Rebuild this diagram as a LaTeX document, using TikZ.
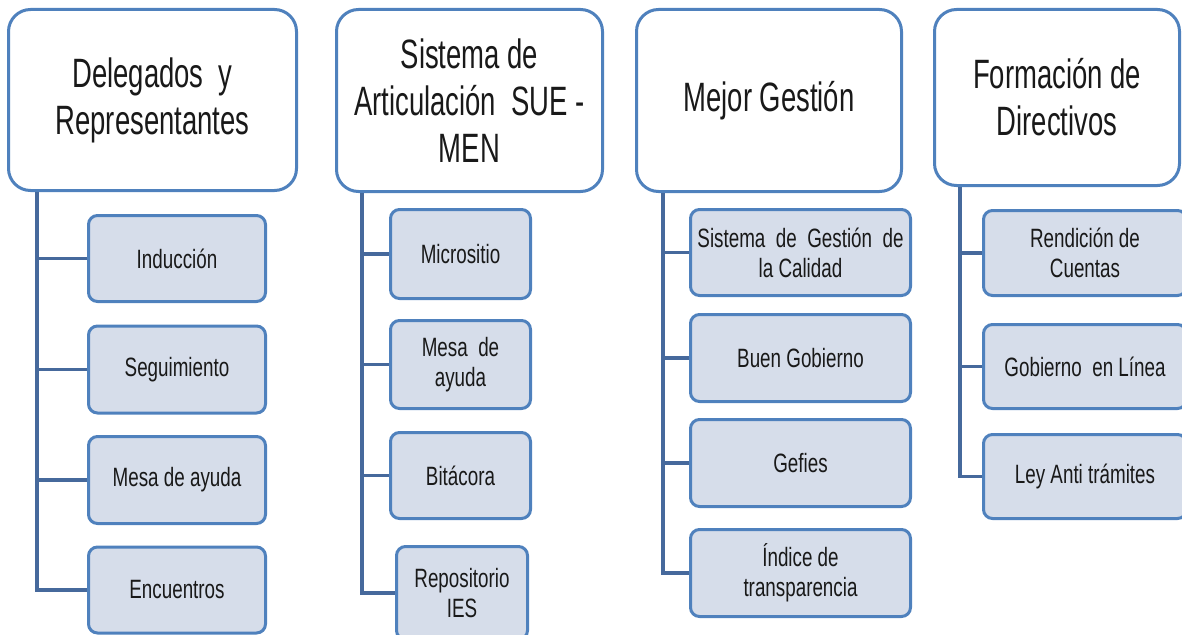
\documentclass[tikz,border=0pt]{standalone}
\usepackage{fontspec}
\setmainfont[FakeStretch=0.71]{Liberation Sans}
\newfontfamily\hdfont[FakeStretch=0.67]{Liberation Sans}
\definecolor{bordblue}{HTML}{4F81BD}
\definecolor{linkblue}{HTML}{46699C}
\definecolor{childfill}{HTML}{D6DDEA}
\tikzset{
  headbox/.style={draw=bordblue, line width=3pt, fill=white, rounded corners=22pt,
    align=center, inner sep=0pt, text=black!90, font=\hdfont\fontsize{41}{47}\selectfont},
  childbox/.style={draw=bordblue, line width=3pt, fill=childfill, rounded corners=9pt,
    align=center, inner sep=0pt, text=black!90, font=\fontsize{26.5}{30}\selectfont},
  link/.style={draw=linkblue, line width=3.5pt}
}
\begin{document}
\begin{tikzpicture}[x=1pt,y=-1pt]
\useasboundingbox (0,0) rectangle (1182,634);
\clip (0,0) rectangle (1182,634);
% headers
\node[headbox, minimum width=288pt, minimum height=181pt] (h1) at (152.5,100) {Delegados\ \ y\\Representantes};
\node[headbox, minimum width=266pt, minimum height=182pt] (h2) at (469.5,100.5) {Sistema de\\Articulación\ \ SUE -\\MEN};
\node[headbox, minimum width=265pt, minimum height=182pt] (h3) at (769,100.5) {Mejor Gestión};
\node[headbox, minimum width=245pt, minimum height=176pt] (h4) at (1057,97.5) {Formación de\\Directivos};
% column 1
\node[childbox, minimum width=177pt, minimum height=86pt] (c11) at (177,258.5) {Inducción};
\node[childbox, minimum width=177pt, minimum height=87pt] (c12) at (177,369.5) {Seguimiento};
\node[childbox, minimum width=177pt, minimum height=87pt] (c13) at (177,480) {Mesa\ de\ ayuda};
\node[childbox, minimum width=177pt, minimum height=86pt] (c14) at (177,590) {Encuentros};
% column 2
\node[childbox, minimum width=140pt, minimum height=89pt] (c21) at (460.5,254) {Micrositio};
\node[childbox, minimum width=140pt, minimum height=88pt] (c22) at (460.5,364.5) {Mesa\ \ de\\ayuda};
\node[childbox, minimum width=140pt, minimum height=86pt] (c23) at (460.5,475.5) {Bitácora};
\node[childbox, minimum width=131pt, minimum height=93pt] (c24) at (462,593) {Repositorio\\IES};
% column 3
\node[childbox, minimum width=220pt, minimum height=86pt] (c31) at (800.5,252.5) {Sistema\ \ de\ \ Gestión\ \ de\\la Calidad};
\node[childbox, minimum width=220pt, minimum height=87pt] (c32) at (800.5,358) {Buen\ Gobierno};
\node[childbox, minimum width=220pt, minimum height=87pt] (c33) at (800.5,463) {Gefies};
\node[childbox, minimum width=220pt, minimum height=87pt] (c34) at (800.5,573) {Índice de\\transparencia};
% column 4
\node[childbox, minimum width=203pt, minimum height=85pt] (c41) at (1085,253) {Rendición\ de\\Cuentas};
\node[childbox, minimum width=203pt, minimum height=84pt] (c42) at (1085,366.5) {Gobierno\ \ en Línea};
\node[childbox, minimum width=203pt, minimum height=84pt] (c43) at (1085,476.5) {Ley Anti trámites};
% trunk coordinates
\coordinate (t1) at (h1.south -| 37,0);
\coordinate (t2) at (h2.south -| 362,0);
\coordinate (t3) at (h3.south -| 663,0);
\coordinate (t4) at (h4.south -| 960,0);
% connectors
\draw[link] (t1) |- (c14.west);
\draw[link] (t1 |- c11.west) -- (c11.west);
\draw[link] (t1 |- c12.west) -- (c12.west);
\draw[link] (t1 |- c13.west) -- (c13.west);
\draw[link] (t2) |- (c24.west);
\draw[link] (t2 |- c21.west) -- (c21.west);
\draw[link] (t2 |- c22.west) -- (c22.west);
\draw[link] (t2 |- c23.west) -- (c23.west);
\draw[link] (t3) |- (c34.west);
\draw[link] (t3 |- c31.west) -- (c31.west);
\draw[link] (t3 |- c32.west) -- (c32.west);
\draw[link] (t3 |- c33.west) -- (c33.west);
\draw[link] (t4) |- (c43.west);
\draw[link] (t4 |- c41.west) -- (c41.west);
\draw[link] (t4 |- c42.west) -- (c42.west);
\end{tikzpicture}
\end{document}
